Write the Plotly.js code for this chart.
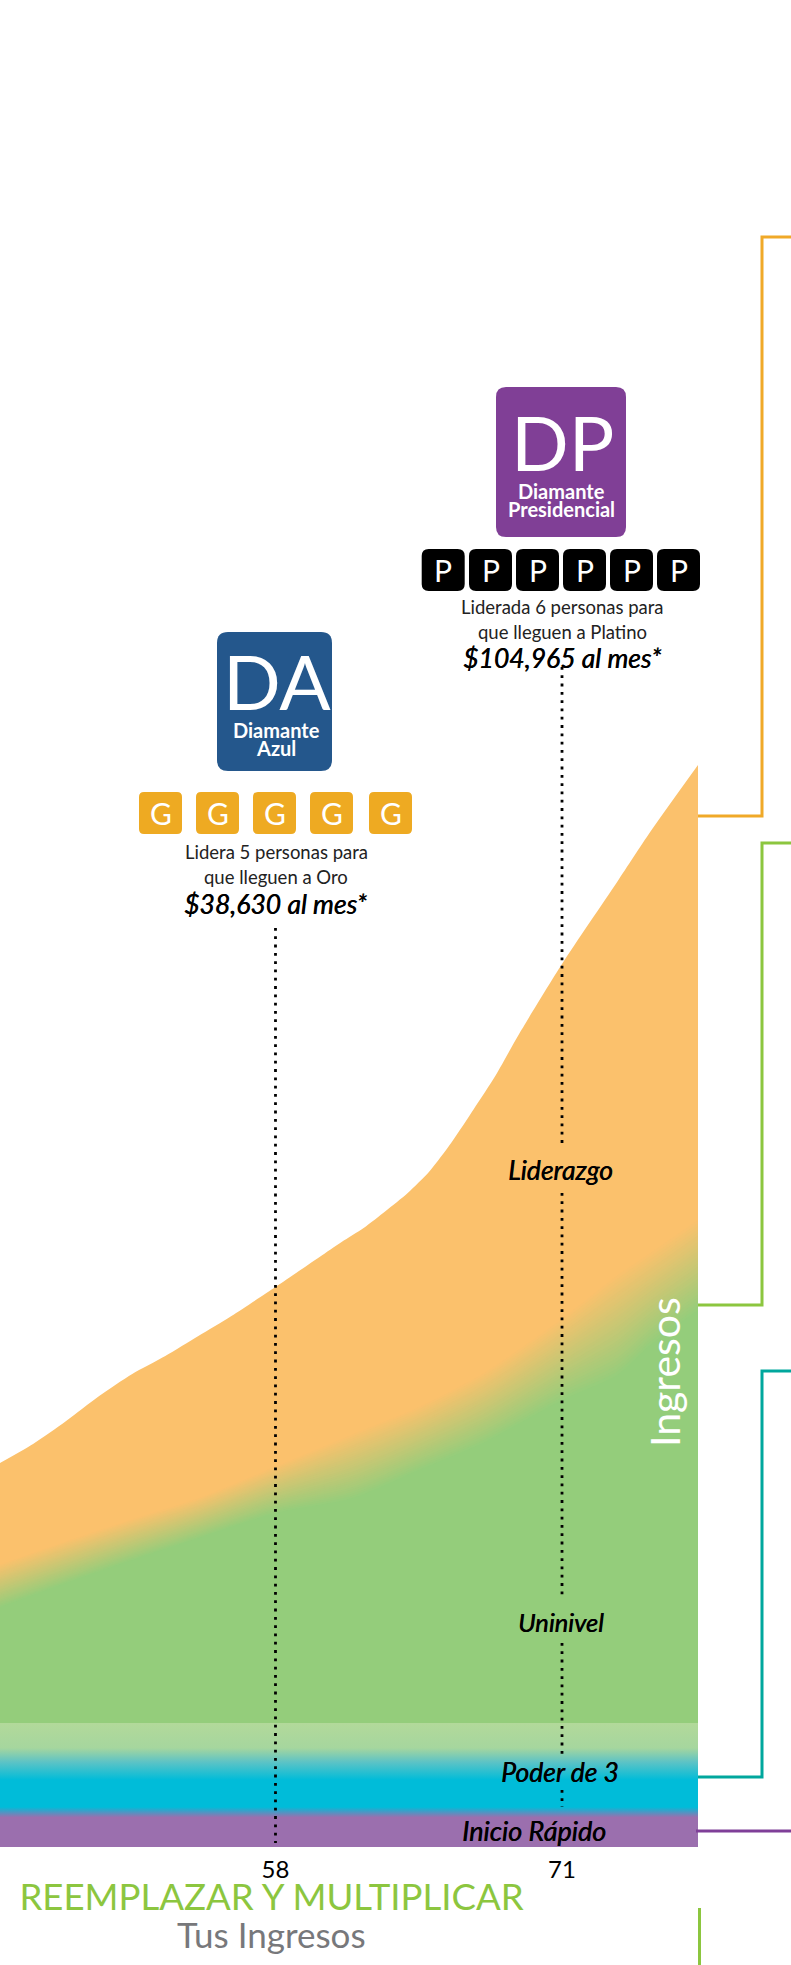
<!DOCTYPE html>
<html>
<head>
<meta charset="utf-8">
<script src="https://cdn.plot.ly/plotly-3.0.1.min.js"></script>
<style>html,body{margin:0;padding:0;background:#fff}#chart{width:791px;height:1965px}</style>
</head>
<body>
<div id="chart"></div>
<script>
// ---- values (x: age, y: income in chart units) ----
const edadesLiderazgo = [45.5,47,48.5,50,51.5,53,54.5,56,58,59,60,61,62,63,64,65,66,67,68,69,71,73.5,75,77.17];
const ingresosLiderazgo = [384,403,426,451,473,491,511,531,560,575,590,605,619,636,654,676,705,738,772,811,883,965,1015,1082];
const edadesUninivel = [45.5,48.5,51.5,54.5,58,61.5,64.5,67.5,71,73.5,75,77.17];
const uninivelInicioMezcla = [284,307,329,350,382,415,442,477,531,575,597,630];
const uninivelFinMezcla = [240,264,287,309,334,349,377,405,447,472,502,537];
const edadesPlanas = [45.5,77.17];
const ingresosPoder = [124,124];
const ingresosInicio = [40,40];
const edadesMarcadas = [58,71];
const etiquetasEdad = ['58','71'];
const insigniasAzul = ['G','G','G','G','G'];
const insigniasPresidencial = ['P','P','P','P','P','P'];

// ---- page geometry ----
const W = 791, H = 1965, BASE = 1847;
const px = x => x / W;
const py = y => 1 - y / BASE;
const FONT = 'Lato, sans-serif';
const NARANJA = [251,193,108], VERDE = [148,205,123];
const mezcla = t => 'rgb(' + NARANJA.map((c,i)=>Math.round(c+(VERDE[i]-c)*t)).join(',') + ')';

const traces = [];
const area = (x, y, color, extra) => traces.push(Object.assign({
  x, y, type:'scatter', mode:'lines', fill:'tozeroy', fillcolor:color,
  line:{width:0, shape:'spline', smoothing:0.7, color:color}, hoverinfo:'skip', showlegend:false
}, extra||{}));

area(edadesLiderazgo, ingresosLiderazgo, mezcla(0), {name:'Liderazgo'});
const PASOS = 30;
for (let k = 1; k <= PASOS; k++) {
  const t = k / PASOS;
  const y = uninivelInicioMezcla.map((v,i)=> v + (uninivelFinMezcla[i]-v)*t);
  area(edadesUninivel, y, mezcla(t), {name:'Uninivel'});
}
area(edadesPlanas, ingresosPoder, '#00bcd9', {name:'Poder de 3', line:{width:0},
  fillgradient:{type:'vertical', start:35, stop:124, colorscale:[
    [0,'#00bcd9'],[0.36,'#00bcd9'],[0.56,'#5cc3c6'],[0.72,'#a6d69e'],[1,'#b2d99a']]}});
area(edadesPlanas, ingresosInicio, '#9b6fae', {name:'Inicio Rápido', line:{width:0},
  fillgradient:{type:'vertical', start:0, stop:40, colorscale:[
    [0,'#9b6fae'],[0.74,'#9b6fae'],[1,'#00bcd9']]}});

// dotted guide lines
const punteada = (edad, ys) => traces.push({
  x: ys.map(()=>edad), y: ys, type:'scatter', mode:'lines',
  line:{color:'#000', width:2.8, dash:'2.8px,5.5px'}, hoverinfo:'skip', showlegend:false
});
punteada(edadesMarcadas[0], [919,4]);
punteada(edadesMarcadas[1], [1180,699]);
punteada(edadesMarcadas[1], [654,249]);
punteada(edadesMarcadas[1], [204,93]);
punteada(edadesMarcadas[1], [57,40]);

// ---- shapes ----
const rr = (x0,y0,x1,y1,r,fill) => {
  const X=px, Y=py;
  const kx=r, ky=r;
  return {type:'path', xref:'paper', yref:'paper', layer:'above', fillcolor:fill, line:{width:0},
    path:`M ${X(x0+kx)} ${Y(y0)} L ${X(x1-kx)} ${Y(y0)} Q ${X(x1)} ${Y(y0)} ${X(x1)} ${Y(y0+ky)} `+
         `L ${X(x1)} ${Y(y1-ky)} Q ${X(x1)} ${Y(y1)} ${X(x1-kx)} ${Y(y1)} L ${X(x0+kx)} ${Y(y1)} `+
         `Q ${X(x0)} ${Y(y1)} ${X(x0)} ${Y(y1-ky)} L ${X(x0)} ${Y(y0+ky)} Q ${X(x0)} ${Y(y0)} ${X(x0+kx)} ${Y(y0)} Z`};
};
const linea = (pts,color) => ({type:'path', xref:'paper', yref:'paper', layer:'above',
  fillcolor:'rgba(0,0,0,0)', line:{color, width:3},
  path:pts.map((p,i)=>(i?'L ':'M ')+px(p[0])+' '+py(p[1])).join(' ')});

const shapes = [
  linea([[698,816],[762,816],[762,237],[791,237]], '#f0a928'),
  linea([[698,1305],[762,1305],[762,843],[791,843]], '#8cc63f'),
  linea([[698,1777],[762,1777],[762,1371],[791,1371]], '#00a79d'),
  linea([[696,1831],[791,1831]], '#7f3f98'),
  linea([[699.5,1908],[699.5,1965]], '#8cc63f'),
  rr(496,387,626,537,10,'#803f96'),
  rr(217,632,332,771,11,'#24578c')
];

// ---- text ----
const annotations = [];
const txt = (text,x,y,size,color,opt) => annotations.push(Object.assign({
  text, x:px(x), y:py(y), xref:'paper', yref:'paper', xanchor:'center', yanchor:'middle',
  showarrow:false, font:Object.assign({family:FONT,size,color},(opt&&opt.font)||{})
}, opt&&opt.a||{}));
const ital = {font:{style:'italic',weight:400,shadow:'0.5px 0 0 #000'}};

const xP = [421.7,469,516,563,610,657];
insigniasPresidencial.forEach((t,i)=>{
  shapes.push(rr(xP[i],549,xP[i]+43,591,7,'#000'));
  txt(t,xP[i]+21.5,570,30,'#fff');
});
const xG = [139,196,253,310,369];
insigniasAzul.forEach((t,i)=>{
  shapes.push(rr(xG[i],792,xG[i]+43,834,5,'#eeaa22'));
  txt(t,xG[i]+21.5,813,30,'#fff');
});

txt('DP',562,442,76,'#fff');
txt('Diamante',561,491.5,20,'#fff',{font:{weight:700}});
txt('Presidencial',561,509,20,'#fff',{font:{weight:700}});
txt('Liderada 6 personas para',562,607,18.5,'#222');
txt('que lleguen a Platino',562,632,18.5,'#222');
txt('$104,965 al mes*',562,658,26.5,'#000',ital);

txt('DA',277,681,76,'#fff');
txt('Diamante',276,730.5,20,'#fff',{font:{weight:700}});
txt('Azul',276,748,20,'#fff',{font:{weight:700}});
txt('Lidera 5 personas para',276,852,18.5,'#222');
txt('que lleguen a Oro',276,877,18.5,'#222');
txt('$38,630 al mes*',276,904,26.5,'#000',ital);

txt('Liderazgo',560,1170,26.5,'#000',ital);
txt('Uninivel',560.5,1622,25.5,'#000',ital);
txt('Poder de 3',560,1772,26.5,'#000',ital);
txt('Inicio Rápido',533.5,1830,27,'#000',ital);
txt('Ingresos',664,1372,41,'#fff',{a:{textangle:-90}});
txt('Tus Ingresos',271,1934,35,'#77787b');

const layout = {
  width:W, height:H, margin:{l:0,r:0,t:0,b:H-BASE,pad:0},
  paper_bgcolor:'#fff', plot_bgcolor:'rgba(0,0,0,0)', showlegend:false,
  title:{text:'REEMPLAZAR Y MULTIPLICAR', x:271.5/W, xanchor:'center', xref:'container',
         y:1-1897/H, yref:'container', yanchor:'middle', font:{family:FONT,size:36.6,color:'#8cc63f'},
         automargin:false},
  xaxis:{range:[45.5,81.39], tickmode:'array', tickvals:edadesMarcadas, ticktext:etiquetasEdad,
    ticks:'outside', ticklen:1, tickcolor:'rgba(0,0,0,0)', tickfont:{family:FONT,size:24,color:'#000'},
    showgrid:false, zeroline:false, showline:false, fixedrange:true},
  yaxis:{range:[0,BASE], visible:false, fixedrange:true},
  shapes, annotations
};
Plotly.newPlot('chart', traces, layout, {displayModeBar:false, staticPlot:true});
</script>
</body>
</html>
